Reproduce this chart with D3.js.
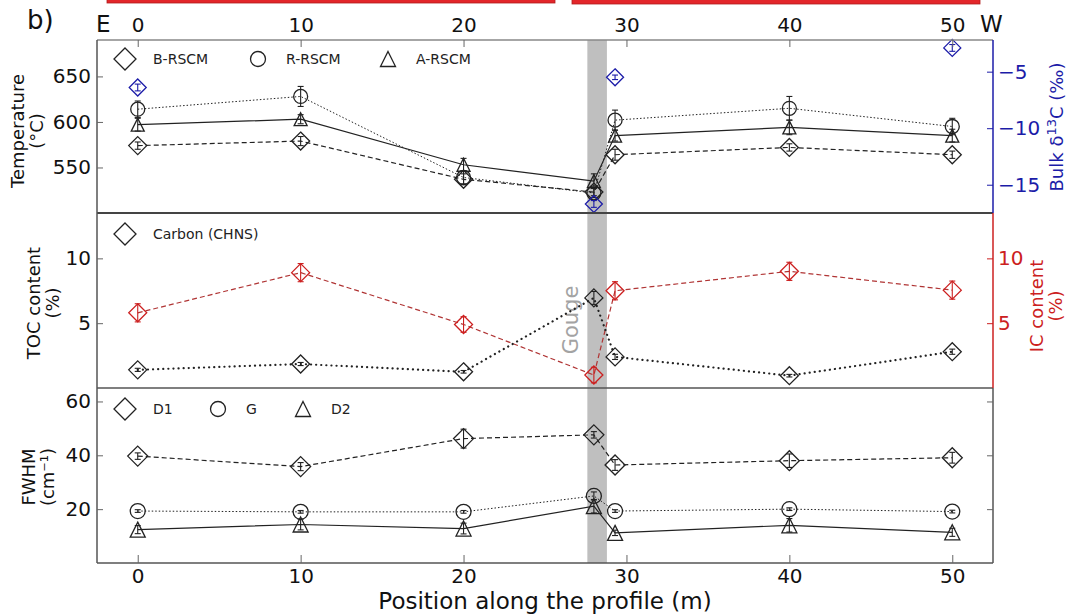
<!DOCTYPE html>
<html>
<head>
<meta charset="utf-8">
<script src="https://cdn.jsdelivr.net/npm/d3@7"></script>
<style>
  body { margin: 0; background: #fff; }
  text { font-family: "DejaVu Sans", sans-serif; }
</style>
</head>
<body>
<script>
// positions along the profile (m)
var positions = [0, 10, 20, 28, 29.3, 40, 50];

// RSCM temperatures (°C)
var bRscm = [574, 579, 537, 523, 564, 572, 564];
var bRscmErr = [4, 5, 6, 4, 6, 4, 4];
var rRscm = [614, 628, 539, 522, 602, 615, 595];
var rRscmErr = [9, 11, 7, 5, 11, 13, 9];
var aRscm = [597, 603, 553, 535, 585, 594, 585];
var aRscmErr = [7, 5, 7, 8, 6, 8, 7];

// bulk d13C (permil)
var d13cPos = [0, 28, 29.3, 50];
var d13c = [-6.4, -16.7, -5.5, -2.9];
var d13cErr = [0.3, 0.3, 0.2, 0.3];

// carbon (CHNS)
var toc = [1.4, 1.85, 1.25, 6.95, 2.4, 0.95, 2.8];
var tocErr = [0.12, 0.12, 0.1, 0.5, 0.2, 0.1, 0.2];
var ic = [5.8, 8.9, 4.9, 1.0, 7.5, 9.0, 7.55];
var icErr = [0.7, 0.7, 0.6, 0.6, 0.7, 0.7, 0.7];

// FWHM (cm-1)
var d1 = [39.7, 35.8, 46.2, 47.6, 36.4, 38, 39.1];
var d1Err = [1.2, 1.5, 3.5, 1.2, 2, 2.5, 2];
var gBand = [19.3, 19, 19, 24.9, 19.3, 20, 19.1];
var gErr = [0.5, 0.5, 0.5, 1.5, 0.5, 0.5, 0.5];
var d2 = [12.4, 14.3, 12.8, 21.1, 11.2, 14, 11.4];
var d2Err = [1.5, 2, 2, 2.5, 1, 2.5, 1.5];

var gouge = [27.6, 28.8];
var xTicks = [0, 10, 20, 30, 40, 50];
var tempTicks = [550, 600, 650];
var d13cTicks = [-15, -10, -5];
var carbonTicks = [5, 10];
var fwhmTicks = [20, 40, 60];

var W = 1069, H = 616;
var left = 97, right = 993;
var blue = "#1c1ca8", red = "#cc2020", redLine = "#b03434", frame = "#555";

var svg = d3.select("body").append("svg")
  .attr("width", W).attr("height", H);

var x = d3.scaleLinear().domain([-2.5, 52.5]).range([left, right]);
var yTemp = d3.scaleLinear().domain([500, 690]).range([213, 40]);
var yD13 = d3.scaleLinear().domain([-17.5, -2.2]).range([213, 40]);
var yC = d3.scaleLinear().domain([0, 13.5]).range([388, 213]);
var yF = d3.scaleLinear().domain([0, 65]).range([563, 388]);

// red bars at the very top (cropped in the original)
svg.append("rect").attr("x", 107).attr("y", -2).attr("width", 448).attr("height", 5)
  .attr("fill", "#e3262a").attr("stroke", "#b01c1c").attr("stroke-width", 0.8);
svg.append("rect").attr("x", 572).attr("y", -2).attr("width", 408).attr("height", 6)
  .attr("fill", "#e3262a").attr("stroke", "#b01c1c").attr("stroke-width", 0.8);

// gouge band
svg.append("rect")
  .attr("x", x(gouge[0])).attr("y", 40)
  .attr("width", x(gouge[1]) - x(gouge[0])).attr("height", 523)
  .attr("fill", "#bfbfbf");

svg.append("text").text("Gouge")
  .attr("transform", "translate(578,320) rotate(-90)")
  .attr("text-anchor", "middle")
  .attr("font-size", 21).attr("fill", "#a3a3a3");

var diamond = function(r){ return "M0," + (-r) + "L" + r + ",0L0," + r + "L" + (-r) + ",0Z"; };
var triangle = function(r){ return "M0," + (-r) + "L" + r + "," + r + "L" + (-r) + "," + r + "Z"; };
function circlePath(r){ return "M" + r + ",0A" + r + "," + r + " 0 1,1 " + (-r) + ",0A" + r + "," + r + " 0 1,1 " + r + ",0Z"; }

function drawSeries(xs, ys, errs, yScale, opt){
  var g = svg.append("g");
  var pts = xs.map(function(d, i){ return {x: d, y: ys[i], e: errs[i]}; });
  if (opt.dash !== null) {
    g.append("path").datum(pts)
      .attr("d", d3.line().x(function(d){ return x(d.x); }).y(function(d){ return yScale(d.y); }))
      .attr("fill", "none")
      .attr("stroke", opt.lineColor || opt.color)
      .attr("stroke-width", opt.lw || 1.2)
      .attr("stroke-dasharray", opt.dash)
      .attr("stroke-linecap", opt.cap || "butt");
  }
  var eb = g.selectAll("g.eb").data(pts).enter().append("g")
    .attr("stroke", opt.color).attr("stroke-width", 1.1);
  eb.append("line")
    .attr("x1", function(d){ return x(d.x); }).attr("x2", function(d){ return x(d.x); })
    .attr("y1", function(d){ return yScale(d.y - d.e); })
    .attr("y2", function(d){ return yScale(d.y + d.e); });
  [-1, 1].forEach(function(s){
    eb.append("line")
      .attr("x1", function(d){ return x(d.x) - 3; }).attr("x2", function(d){ return x(d.x) + 3; })
      .attr("y1", function(d){ return yScale(d.y + s * d.e); })
      .attr("y2", function(d){ return yScale(d.y + s * d.e); });
  });
  g.selectAll("path.mk").data(pts).enter().append("path")
    .attr("class", "mk")
    .attr("d", opt.shape)
    .attr("transform", function(d){ return "translate(" + x(d.x) + "," + yScale(d.y) + ")"; })
    .attr("fill", "none")
    .attr("stroke", opt.color)
    .attr("stroke-width", 1.3);
}

// top panel
drawSeries(positions, rRscm, rRscmErr, yTemp, {color: "#222", shape: circlePath(7), dash: "1.5,2", lw: 1});
drawSeries(positions, aRscm, aRscmErr, yTemp, {color: "#222", shape: triangle(6.5), dash: "none", lw: 1.2});
drawSeries(positions, bRscm, bRscmErr, yTemp, {color: "#222", shape: diamond(9), dash: "5,3", lw: 1.2});
drawSeries(d13cPos, d13c, d13cErr, yD13, {color: blue, shape: diamond(8.5), dash: null});

// middle panel
drawSeries(positions, ic, icErr, yC, {color: red, lineColor: redLine, shape: diamond(9), dash: "5,3", lw: 1.2});
drawSeries(positions, toc, tocErr, yC, {color: "#222", shape: diamond(9), dash: "0.1,5", lw: 2.2, cap: "round"});

// bottom panel
drawSeries(positions, d1, d1Err, yF, {color: "#222", shape: diamond(10), dash: "5,3", lw: 1.2});
drawSeries(positions, gBand, gErr, yF, {color: "#222", shape: circlePath(7.5), dash: "1.5,2", lw: 1});
drawSeries(positions, d2, d2Err, yF, {color: "#222", shape: triangle(7.5), dash: "none", lw: 1.2});

// frames
function hline(y, c, w){ svg.append("line").attr("x1", left).attr("x2", right).attr("y1", y).attr("y2", y).attr("stroke", c).attr("stroke-width", w); }
function vline(xx, y1, y2, c){ svg.append("line").attr("x1", xx).attr("x2", xx).attr("y1", y1).attr("y2", y2).attr("stroke", c).attr("stroke-width", 1.5); }
hline(40, "#888", 1.3);
hline(213, "#444", 1.8);
hline(388, "#555", 1.5);
hline(563, "#555", 1.5);
vline(left, 40, 563, frame);
vline(right, 40, 213, blue);
vline(right, 213, 388, red);
vline(right, 388, 563, frame);

// axes
var fs = 20;
svg.append("g").attr("transform", "translate(0,40)")
  .call(d3.axisTop(x).tickValues(xTicks).tickSize(-7).tickPadding(14))
  .call(function(g){ g.select(".domain").remove(); g.selectAll("line").attr("stroke", "#666"); g.selectAll("text").attr("font-size", fs).attr("fill", "#111").attr("font-family", "DejaVu Sans").attr("dy", 0).attr("y", -8); });
svg.append("g").attr("transform", "translate(0,563)")
  .call(d3.axisBottom(x).tickValues(xTicks).tickSize(-8).tickPadding(14))
  .call(function(g){ g.select(".domain").remove(); g.selectAll("line").attr("stroke", "#666"); g.selectAll("text").attr("font-size", fs).attr("fill", "#111").attr("font-family", "DejaVu Sans").attr("dy", 0).attr("y", 20); });

function leftAxis(scale, ticks){
  svg.append("g").attr("transform", "translate(" + left + ",0)")
    .call(d3.axisLeft(scale).tickValues(ticks).tickSize(-6).tickPadding(6))
    .call(function(g){ g.select(".domain").remove(); g.selectAll("line").attr("stroke", "#666"); g.selectAll("text").attr("font-size", fs).attr("fill", "#111").attr("font-family", "DejaVu Sans"); });
}
leftAxis(yTemp, tempTicks);
leftAxis(yC, carbonTicks);
leftAxis(yF, fwhmTicks);

function rightAxis(scale, ticks, color, labels){
  svg.append("g").attr("transform", "translate(" + right + ",0)")
    .call(d3.axisRight(scale).tickValues(ticks).tickSize(-6).tickPadding(5).tickFormat(labels ? d3.format("") : ""))
    .call(function(g){ g.select(".domain").remove(); g.selectAll("line").attr("stroke", color); g.selectAll("text").attr("font-size", fs).attr("fill", color).attr("font-family", "DejaVu Sans"); });
}
rightAxis(yD13, d13cTicks, blue, true);
rightAxis(yC, carbonTicks, red, true);
rightAxis(yF, fwhmTicks, "#666", false);

// labels
svg.append("text").text("b)").attr("x", 27).attr("y", 29).attr("font-size", 26).attr("fill", "#111");
svg.append("text").text("E").attr("x", 96).attr("y", 32).attr("font-size", 23).attr("fill", "#111");
svg.append("text").text("W").attr("x", 980).attr("y", 32).attr("font-size", 23).attr("fill", "#111");

function ylab(lines, xx, yc, color){
  lines.forEach(function(l, i){
    svg.append("text").text(l)
      .attr("transform", "translate(" + (xx + i * 19) + "," + yc + ") rotate(-90)")
      .attr("text-anchor", "middle").attr("font-size", 18).attr("fill", color);
  });
}
ylab(["Temperature", "(°C)"], 24, 131, "#111");
ylab(["TOC content", "(%)"], 40, 303, "#111");
ylab(["FWHM", "(cm\u207B\u00B9)"], 35, 477, "#111");
ylab(["IC content", "(%)"], 1043, 306, red);
svg.append("text")
  .attr("transform", "translate(1063,127) rotate(-90)")
  .attr("text-anchor", "middle").attr("font-size", 18).attr("fill", blue)
  .html("Bulk δ<tspan dy='-7' font-size='13'>13</tspan><tspan dy='7'>C (‰)</tspan>");

svg.append("text").text("Position along the profile (m)")
  .attr("x", 545).attr("y", 609).attr("text-anchor", "middle")
  .attr("font-size", 23).attr("fill", "#111");

// legends
function legend(items, y){
  items.forEach(function(it){
    svg.append("path").attr("d", it.shape)
      .attr("transform", "translate(" + it.x + "," + y + ")")
      .attr("fill", "none").attr("stroke", "#222").attr("stroke-width", 1.3);
    svg.append("text").text(it.label).attr("x", it.x + 28).attr("y", y + 5)
      .attr("font-size", 14).attr("fill", "#222");
  });
}
legend([
  {x: 125, shape: diamond(11), label: "B-RSCM"},
  {x: 258, shape: circlePath(7.5), label: "R-RSCM"},
  {x: 388, shape: triangle(7.5), label: "A-RSCM"}
], 59);
legend([{x: 125, shape: diamond(11), label: "Carbon (CHNS)"}], 234);
legend([
  {x: 125, shape: diamond(11), label: "D1"},
  {x: 218, shape: circlePath(7.5), label: "G"},
  {x: 303, shape: triangle(7.5), label: "D2"}
], 409);
</script>
</body>
</html>
